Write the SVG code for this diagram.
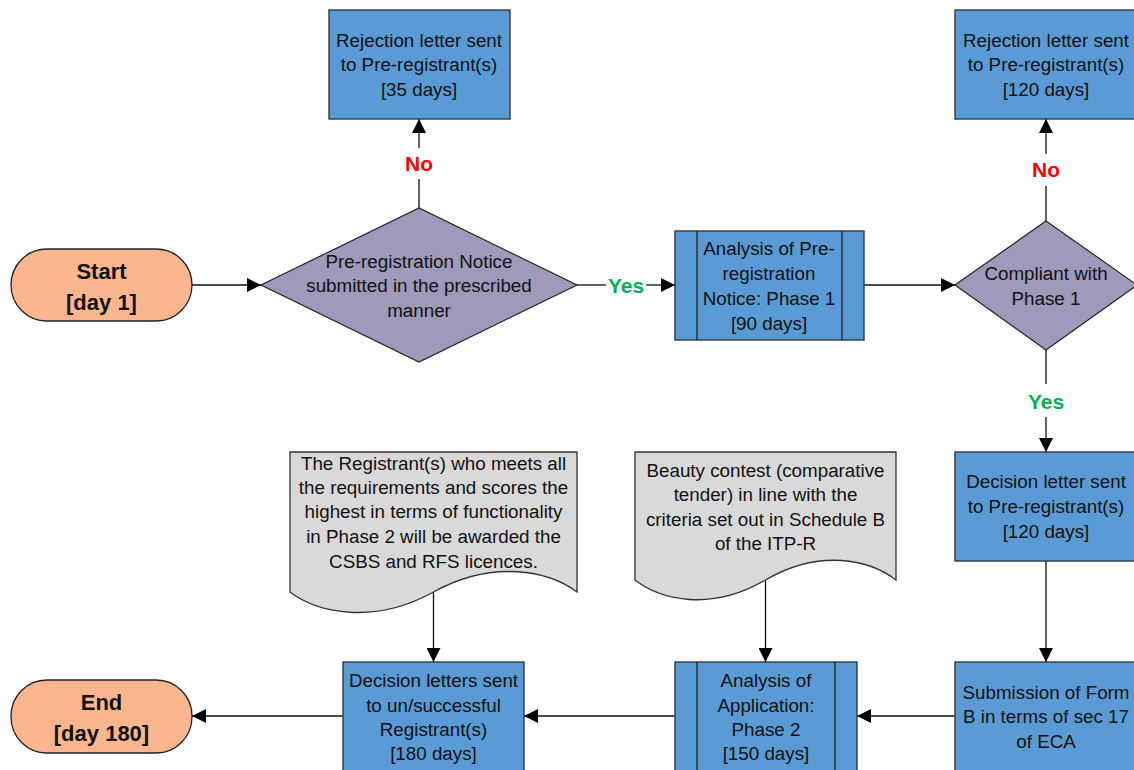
<svg xmlns="http://www.w3.org/2000/svg" width="1134" height="770" viewBox="0 0 1134 770">
<defs>
<style>
.box{fill:#5B9BD5;stroke:#2E3A48;stroke-width:1.4}
.dia{fill:#9F99BA;stroke:#222;stroke-width:1.2}
.term{fill:#FBB68E;stroke:#222;stroke-width:1.3}
.doc{fill:#D9D9D9;stroke:#333;stroke-width:1.3}
.bar{fill:none;stroke:#222;stroke-width:1.3}
.t{font-family:"Liberation Sans",Arial,sans-serif;font-size:18.8px;fill:#111;text-anchor:middle}
.b{font-family:"Liberation Sans",Arial,sans-serif;font-size:22px;font-weight:bold;fill:#111;text-anchor:middle}
.no{font-family:"Liberation Sans",Arial,sans-serif;font-size:21px;font-weight:bold;fill:#FF0000;text-anchor:middle}
.yes{font-family:"Liberation Sans",Arial,sans-serif;font-size:21px;font-weight:bold;fill:#00B050;text-anchor:middle}
.c{fill:none;stroke:#111;stroke-width:1.3}
.a{marker-end:url(#arr)}
</style>
<marker id="arr" markerUnits="userSpaceOnUse" markerWidth="14" markerHeight="14" refX="14" refY="7" orient="auto">
<path d="M0,0 L14,7 L0,14 z" fill="#000"/>
</marker>
</defs>
<rect width="1134" height="770" fill="#fff"/>

<g id="connectors">
<line class="c a" x1="192" y1="285" x2="261" y2="285"/>
<line class="c" x1="419" y1="208" x2="419" y2="179"/>
<line class="c a" x1="419" y1="148" x2="419" y2="119"/>
<line class="c" x1="577" y1="285" x2="606" y2="285"/>
<line class="c a" x1="646" y1="285" x2="675" y2="285"/>
<line class="c a" x1="864" y1="285" x2="955" y2="285"/>
<line class="c" x1="1046" y1="221" x2="1046" y2="186"/>
<line class="c a" x1="1046" y1="154" x2="1046" y2="119"/>
<line class="c" x1="1046" y1="350" x2="1046" y2="384"/>
<line class="c a" x1="1046" y1="417" x2="1046" y2="452"/>
<line class="c a" x1="1046" y1="561" x2="1046" y2="662"/>
<line class="c a" x1="955" y1="716" x2="857" y2="716"/>
<line class="c a" x1="765.5" y1="580" x2="765.5" y2="662"/>
<line class="c a" x1="675" y1="716" x2="524" y2="716"/>
<line class="c a" x1="433.5" y1="592" x2="433.5" y2="662"/>
<line class="c a" x1="343" y1="716" x2="192" y2="716"/>
</g>

<g id="labels">
<text class="no" x="419" y="171">No</text>
<text class="yes" x="626" y="292.5">Yes</text>
<text class="no" x="1046" y="177">No</text>
<text class="yes" x="1046" y="409">Yes</text>
</g>

<g id="start">
<rect class="term" x="11" y="249" width="181" height="72" rx="36" ry="36"/>
<text class="b" x="101.5" y="279">Start</text>
<text class="b" x="101.5" y="310">[day 1]</text>
</g>

<g id="rejection1">
<rect class="box" x="329" y="10" width="181" height="109"/>
<text class="t" x="419" y="46.5">Rejection letter sent</text>
<text class="t" x="419" y="71">to Pre-registrant(s)</text>
<text class="t" x="419" y="95.5">[35 days]</text>
</g>

<g id="decision1">
<polygon class="dia" points="261,285 419,208 577,285 419,362"/>
<text class="t" x="419" y="267.5">Pre-registration Notice</text>
<text class="t" x="419" y="292">submitted in the prescribed</text>
<text class="t" x="419" y="316.5">manner</text>
</g>

<g id="analysis1">
<rect class="box" x="675" y="231" width="189" height="109"/>
<line class="bar" x1="697" y1="231" x2="697" y2="340"/>
<line class="bar" x1="842" y1="231" x2="842" y2="340"/>
<text class="t" x="769" y="254.5">Analysis of Pre-</text>
<text class="t" x="769" y="279.5">registration</text>
<text class="t" x="769" y="304.5">Notice: Phase 1</text>
<text class="t" x="769" y="329.5">[90 days]</text>
</g>

<g id="decision2">
<polygon class="dia" points="955,285 1046,221 1137,285 1046,350"/>
<text class="t" x="1046" y="279.5">Compliant with</text>
<text class="t" x="1046" y="304.5">Phase 1</text>
</g>

<g id="rejection2">
<rect class="box" x="955" y="10" width="181" height="109"/>
<text class="t" x="1046" y="46.5">Rejection letter sent</text>
<text class="t" x="1046" y="71">to Pre-registrant(s)</text>
<text class="t" x="1046" y="95.5">[120 days]</text>
</g>

<g id="decisionLetter">
<rect class="box" x="955" y="452" width="181" height="109"/>
<text class="t" x="1046" y="488">Decision letter sent</text>
<text class="t" x="1046" y="513">to Pre-registrant(s)</text>
<text class="t" x="1046" y="538">[120 days]</text>
</g>

<g id="submission">
<rect class="box" x="955" y="662" width="181" height="110"/>
<text class="t" x="1046" y="698.5">Submission of Form</text>
<text class="t" x="1046" y="723">B in terms of sec 17</text>
<text class="t" x="1046" y="748">of ECA</text>
</g>

<g id="analysis2">
<rect class="box" x="675" y="662" width="182" height="110"/>
<line class="bar" x1="697" y1="662" x2="697" y2="772"/>
<line class="bar" x1="835" y1="662" x2="835" y2="772"/>
<text class="t" x="766" y="686.5">Analysis of</text>
<text class="t" x="766" y="711.5">Application:</text>
<text class="t" x="766" y="735.5">Phase 2</text>
<text class="t" x="766" y="759.5">[150 days]</text>
</g>

<g id="doc2">
<path class="doc" d="M635,452 H896 V580 C870,560 820,548 765.5,580 C711,612 661,600 635,580 Z"/>
<text class="t" x="765.5" y="476.5">Beauty contest (comparative</text>
<text class="t" x="765.5" y="500.5">tender) in line with the</text>
<text class="t" x="765.5" y="525.5">criteria set out in Schedule B</text>
<text class="t" x="765.5" y="549.5">of the ITP-R</text>
</g>

<g id="decisionLetters">
<rect class="box" x="343" y="662" width="181" height="110"/>
<text class="t" x="433.5" y="687">Decision letters sent</text>
<text class="t" x="433.5" y="711.5">to un/successful</text>
<text class="t" x="433.5" y="735.5">Registrant(s)</text>
<text class="t" x="433.5" y="759.5">[180 days]</text>
</g>

<g id="doc1">
<path class="doc" d="M290,452 H577 V592 C549,571 493,559 433.5,592 C374,625 318,613 290,592 Z"/>
<text class="t" x="433.5" y="469.5">The Registrant(s) who meets all</text>
<text class="t" x="433.5" y="494">the requirements and scores the</text>
<text class="t" x="433.5" y="518">highest in terms of functionality</text>
<text class="t" x="433.5" y="543">in Phase 2 will be awarded the</text>
<text class="t" x="433.5" y="568">CSBS and RFS licences.</text>
</g>

<g id="end">
<rect class="term" x="11" y="680" width="181" height="73" rx="36" ry="36"/>
<text class="b" x="101.5" y="709.5">End</text>
<text class="b" x="101.5" y="740.5">[day 180]</text>
</g>
</svg>
